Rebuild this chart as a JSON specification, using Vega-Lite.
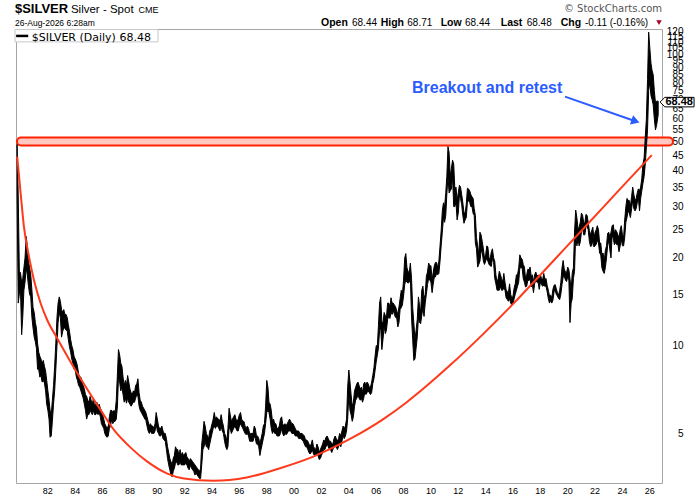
{
  "$schema": "https://vega.github.io/schema/vega-lite/v6.json",
  "width": 646,
  "height": 454,
  "autosize": {"type": "none"},
  "padding": {"left": 16, "top": 29, "right": 38, "bottom": 17},
  "background": "#ffffff",
  "config": {"view": {"stroke": "#a6a6a6", "strokeWidth": 1}, "font": "Liberation Sans"},
  "datasets": {
    "price": [
      {"d":"1979-10-15","lo":34,"hi":49},{"d":"1979-11-15","lo":14,"hi":33},{"d":"1979-12-15","lo":15,"hi":18},
      {"d":"1980-01-15","lo":15.5,"hi":17.8},{"d":"1980-02-15","lo":10.9,"hi":16.5},{"d":"1980-03-15","lo":12.5,"hi":17},{"d":"1980-04-15","lo":15.5,"hi":18.5},{"d":"1980-05-15","lo":16.5,"hi":20},{"d":"1980-06-15","lo":18.5,"hi":23.7},{"d":"1980-07-15","lo":17.5,"hi":22},{"d":"1980-08-15","lo":16,"hi":19.5},{"d":"1980-09-15","lo":15,"hi":18.5},{"d":"1980-10-15","lo":14.7,"hi":17.5},{"d":"1980-11-15","lo":12.5,"hi":15.5},{"d":"1980-12-15","lo":11.5,"hi":13.5},
      {"d":"1981-01-15","lo":10.7,"hi":13},{"d":"1981-02-15","lo":10.3,"hi":12},{"d":"1981-03-15","lo":9.8,"hi":11.5},{"d":"1981-04-15","lo":8.3,"hi":10.2},{"d":"1981-05-15","lo":8.3,"hi":9.5},{"d":"1981-06-15","lo":7.8,"hi":9.2},{"d":"1981-07-15","lo":7.9,"hi":9},{"d":"1981-08-15","lo":7.5,"hi":8.7},{"d":"1981-09-15","lo":7.6,"hi":8.9},{"d":"1981-10-15","lo":7.45,"hi":8.5},{"d":"1981-11-15","lo":7,"hi":8.2},{"d":"1981-12-15","lo":6.3,"hi":7.6},
      {"d":"1982-01-15","lo":6,"hi":7},{"d":"1982-02-15","lo":5.6,"hi":6.5},{"d":"1982-03-15","lo":4.85,"hi":6},{"d":"1982-04-15","lo":4.9,"hi":5.8},{"d":"1982-05-15","lo":5.5,"hi":6.5},{"d":"1982-06-15","lo":6.3,"hi":7.3},{"d":"1982-07-15","lo":7,"hi":8.5},{"d":"1982-08-15","lo":8.3,"hi":10.2},{"d":"1982-09-15","lo":10,"hi":12.5},{"d":"1982-10-15","lo":12,"hi":14},{"d":"1982-11-15","lo":13,"hi":14.7},{"d":"1982-12-15","lo":12.5,"hi":14.2},
      {"d":"1983-01-15","lo":10.7,"hi":13.3},{"d":"1983-02-15","lo":11.2,"hi":13},{"d":"1983-03-15","lo":11.5,"hi":13.3},{"d":"1983-04-15","lo":11.5,"hi":12.8},{"d":"1983-05-15","lo":11.3,"hi":12.8},{"d":"1983-06-15","lo":11.3,"hi":12.5},{"d":"1983-07-15","lo":10.5,"hi":11.8},{"d":"1983-08-15","lo":9.9,"hi":11.2},{"d":"1983-09-15","lo":9.5,"hi":10.5},{"d":"1983-10-15","lo":9,"hi":10},{"d":"1983-11-15","lo":8.7,"hi":9.7},{"d":"1983-12-15","lo":8.3,"hi":9.2},
      {"d":"1984-01-15","lo":8.25,"hi":9},{"d":"1984-02-15","lo":7.8,"hi":8.8},{"d":"1984-03-15","lo":7.6,"hi":8.5},{"d":"1984-04-15","lo":7.3,"hi":8},{"d":"1984-05-15","lo":7.2,"hi":7.8},{"d":"1984-06-15","lo":7,"hi":7.8},{"d":"1984-07-15","lo":6.8,"hi":7.5},{"d":"1984-08-15","lo":6.6,"hi":7.3},{"d":"1984-09-15","lo":6.3,"hi":7.1},{"d":"1984-10-15","lo":6,"hi":6.8},{"d":"1984-11-15","lo":5.6,"hi":6.7},{"d":"1984-12-15","lo":5.8,"hi":6.5},
      {"d":"1985-01-15","lo":5.8,"hi":6.4},{"d":"1985-02-15","lo":6,"hi":6.7},{"d":"1985-03-15","lo":5.9,"hi":6.5},{"d":"1985-04-15","lo":5.8,"hi":6.3},{"d":"1985-05-15","lo":6,"hi":6.6},{"d":"1985-06-15","lo":5.8,"hi":6.2},{"d":"1985-07-15","lo":5.8,"hi":6.3},{"d":"1985-08-15","lo":5.9,"hi":6.4},{"d":"1985-09-15","lo":5.8,"hi":6.2},{"d":"1985-10-15","lo":5.9,"hi":6.3},{"d":"1985-11-15","lo":5.7,"hi":6.1},{"d":"1985-12-15","lo":5.4,"hi":6},
      {"d":"1986-01-15","lo":5.3,"hi":5.8},{"d":"1986-02-15","lo":5.2,"hi":5.6},{"d":"1986-03-15","lo":5,"hi":5.4},{"d":"1986-04-15","lo":4.9,"hi":5.3},{"d":"1986-05-15","lo":4.85,"hi":5.2},{"d":"1986-06-15","lo":4.9,"hi":5.3},{"d":"1986-07-15","lo":5.2,"hi":5.7},{"d":"1986-08-15","lo":5.3,"hi":6},{"d":"1986-09-15","lo":5.6,"hi":6},{"d":"1986-10-15","lo":5.4,"hi":5.9},{"d":"1986-11-15","lo":5.5,"hi":6},{"d":"1986-12-15","lo":5.5,"hi":5.9},
      {"d":"1987-01-15","lo":5.6,"hi":6.5},{"d":"1987-02-15","lo":6.2,"hi":8},{"d":"1987-03-15","lo":7.8,"hi":9.7},{"d":"1987-04-15","lo":7.5,"hi":9.3},{"d":"1987-05-15","lo":7,"hi":8.7},{"d":"1987-06-15","lo":7.2,"hi":8.5},{"d":"1987-07-15","lo":6.8,"hi":7.8},{"d":"1987-08-15","lo":6.4,"hi":7.3},{"d":"1987-09-15","lo":6.6,"hi":7.6},{"d":"1987-10-15","lo":6.35,"hi":7.3},{"d":"1987-11-15","lo":6.6,"hi":7.9},{"d":"1987-12-15","lo":6.4,"hi":7.5},
      {"d":"1988-01-15","lo":6.3,"hi":7.1},{"d":"1988-02-15","lo":6.2,"hi":6.9},{"d":"1988-03-15","lo":6.3,"hi":6.8},{"d":"1988-04-15","lo":6.4,"hi":7},{"d":"1988-05-15","lo":6.4,"hi":6.9},{"d":"1988-06-15","lo":6.6,"hi":7.3},{"d":"1988-07-15","lo":6.8,"hi":7.4},{"d":"1988-08-15","lo":6.7,"hi":7.7},{"d":"1988-09-15","lo":6.2,"hi":6.9},{"d":"1988-10-15","lo":6,"hi":6.5},{"d":"1988-11-15","lo":5.9,"hi":6.4},{"d":"1988-12-15","lo":5.8,"hi":6.2},
      {"d":"1989-01-15","lo":5.7,"hi":6.1},{"d":"1989-02-15","lo":5.6,"hi":6},{"d":"1989-03-15","lo":5.55,"hi":5.9},{"d":"1989-04-15","lo":5.3,"hi":5.7},{"d":"1989-05-15","lo":5.1,"hi":5.5},{"d":"1989-06-15","lo":5,"hi":5.3},{"d":"1989-07-15","lo":5.1,"hi":5.4},{"d":"1989-08-15","lo":5,"hi":5.3},{"d":"1989-09-15","lo":5,"hi":5.3},{"d":"1989-10-15","lo":5,"hi":5.2},{"d":"1989-11-15","lo":5.1,"hi":5.4},{"d":"1989-12-15","lo":5.4,"hi":5.9},
      {"d":"1990-01-15","lo":5.1,"hi":5.6},{"d":"1990-02-15","lo":5,"hi":5.3},{"d":"1990-03-15","lo":4.9,"hi":5.2},{"d":"1990-04-15","lo":4.9,"hi":5.2},{"d":"1990-05-15","lo":5,"hi":5.3},{"d":"1990-06-15","lo":4.8,"hi":5.1},{"d":"1990-07-15","lo":4.75,"hi":5},{"d":"1990-08-15","lo":4.7,"hi":5},{"d":"1990-09-15","lo":4.4,"hi":4.8},{"d":"1990-10-15","lo":4.1,"hi":4.5},{"d":"1990-11-15","lo":3.9,"hi":4.3},{"d":"1990-12-15","lo":3.75,"hi":4.1},
      {"d":"1991-01-15","lo":3.6,"hi":4},{"d":"1991-02-15","lo":3.55,"hi":3.9},{"d":"1991-03-15","lo":3.7,"hi":4.1},{"d":"1991-04-15","lo":3.8,"hi":4.2},{"d":"1991-05-15","lo":3.95,"hi":4.5},{"d":"1991-06-15","lo":4,"hi":4.4},{"d":"1991-07-15","lo":3.9,"hi":4.4},{"d":"1991-08-15","lo":3.9,"hi":4.2},{"d":"1991-09-15","lo":4,"hi":4.4},{"d":"1991-10-15","lo":3.9,"hi":4.2},{"d":"1991-11-15","lo":3.9,"hi":4.3},{"d":"1991-12-15","lo":3.9,"hi":4.2},
      {"d":"1992-01-15","lo":3.9,"hi":4.25},{"d":"1992-02-15","lo":3.95,"hi":4.3},{"d":"1992-03-15","lo":3.9,"hi":4.15},{"d":"1992-04-15","lo":3.8,"hi":4.1},{"d":"1992-05-15","lo":3.75,"hi":4},{"d":"1992-06-15","lo":3.9,"hi":4.1},{"d":"1992-07-15","lo":3.8,"hi":4.05},{"d":"1992-08-15","lo":3.75,"hi":4},{"d":"1992-09-15","lo":3.7,"hi":3.95},{"d":"1992-10-15","lo":3.6,"hi":3.9},{"d":"1992-11-15","lo":3.65,"hi":3.85},{"d":"1992-12-15","lo":3.6,"hi":3.8},
      {"d":"1993-01-15","lo":3.55,"hi":3.75},{"d":"1993-02-15","lo":3.5,"hi":3.7},{"d":"1993-03-15","lo":3.5,"hi":3.8},{"d":"1993-04-15","lo":3.9,"hi":4.6},{"d":"1993-05-15","lo":4.4,"hi":5},{"d":"1993-06-15","lo":4.5,"hi":5.5},{"d":"1993-07-15","lo":4.7,"hi":5.3},{"d":"1993-08-15","lo":4.5,"hi":5},{"d":"1993-09-15","lo":4.5,"hi":4.9},{"d":"1993-10-15","lo":4.4,"hi":4.8},{"d":"1993-11-15","lo":4.6,"hi":5.1},{"d":"1993-12-15","lo":4.8,"hi":5.2},
      {"d":"1994-01-15","lo":5,"hi":5.4},{"d":"1994-02-15","lo":5.2,"hi":5.6},{"d":"1994-03-15","lo":5.3,"hi":5.9},{"d":"1994-04-15","lo":5.2,"hi":5.6},{"d":"1994-05-15","lo":5.3,"hi":5.7},{"d":"1994-06-15","lo":5.3,"hi":5.6},{"d":"1994-07-15","lo":5.2,"hi":5.6},{"d":"1994-08-15","lo":5.1,"hi":5.5},{"d":"1994-09-15","lo":5.3,"hi":5.8},{"d":"1994-10-15","lo":5.1,"hi":5.5},{"d":"1994-11-15","lo":5,"hi":5.3},{"d":"1994-12-15","lo":4.7,"hi":5},
      {"d":"1995-01-15","lo":4.5,"hi":4.9},{"d":"1995-02-15","lo":4.4,"hi":4.7},{"d":"1995-03-15","lo":4.5,"hi":5.2},{"d":"1995-04-15","lo":5.2,"hi":6.1},{"d":"1995-05-15","lo":5.2,"hi":5.8},{"d":"1995-06-15","lo":5,"hi":5.5},{"d":"1995-07-15","lo":5.1,"hi":5.6},{"d":"1995-08-15","lo":5.2,"hi":5.7},{"d":"1995-09-15","lo":5.3,"hi":5.8},{"d":"1995-10-15","lo":5.2,"hi":5.6},{"d":"1995-11-15","lo":5.1,"hi":5.5},{"d":"1995-12-15","lo":5.1,"hi":5.6},
      {"d":"1996-01-15","lo":5.3,"hi":5.8},{"d":"1996-02-15","lo":5.4,"hi":5.9},{"d":"1996-03-15","lo":5.3,"hi":5.6},{"d":"1996-04-15","lo":5.2,"hi":5.5},{"d":"1996-05-15","lo":5.1,"hi":5.5},{"d":"1996-06-15","lo":5,"hi":5.3},{"d":"1996-07-15","lo":4.95,"hi":5.2},{"d":"1996-08-15","lo":5,"hi":5.3},{"d":"1996-09-15","lo":4.9,"hi":5.2},{"d":"1996-10-15","lo":4.7,"hi":5},{"d":"1996-11-15","lo":4.7,"hi":5},{"d":"1996-12-15","lo":4.7,"hi":5},
      {"d":"1997-01-15","lo":4.7,"hi":5},{"d":"1997-02-15","lo":4.9,"hi":5.3},{"d":"1997-03-15","lo":4.8,"hi":5.2},{"d":"1997-04-15","lo":4.6,"hi":4.9},{"d":"1997-05-15","lo":4.6,"hi":4.9},{"d":"1997-06-15","lo":4.5,"hi":4.8},{"d":"1997-07-15","lo":4.2,"hi":4.6},{"d":"1997-08-15","lo":4.4,"hi":4.8},{"d":"1997-09-15","lo":4.6,"hi":5},{"d":"1997-10-15","lo":4.8,"hi":5.3},{"d":"1997-11-15","lo":5,"hi":5.4},{"d":"1997-12-15","lo":5.4,"hi":6.2},
      {"d":"1998-01-15","lo":5.9,"hi":7.6},{"d":"1998-02-15","lo":6,"hi":7.2},{"d":"1998-03-15","lo":5.9,"hi":6.4},{"d":"1998-04-15","lo":5.6,"hi":6.3},{"d":"1998-05-15","lo":5.2,"hi":6},{"d":"1998-06-15","lo":5,"hi":5.5},{"d":"1998-07-15","lo":5.1,"hi":5.6},{"d":"1998-08-15","lo":5,"hi":5.4},{"d":"1998-09-15","lo":5,"hi":5.4},{"d":"1998-10-15","lo":4.9,"hi":5.2},{"d":"1998-11-15","lo":4.9,"hi":5.2},{"d":"1998-12-15","lo":4.9,"hi":5.3},
      {"d":"1999-01-15","lo":5,"hi":5.6},{"d":"1999-02-15","lo":5.2,"hi":5.7},{"d":"1999-03-15","lo":5,"hi":5.4},{"d":"1999-04-15","lo":4.9,"hi":5.3},{"d":"1999-05-15","lo":5,"hi":5.4},{"d":"1999-06-15","lo":4.95,"hi":5.3},{"d":"1999-07-15","lo":5,"hi":5.4},{"d":"1999-08-15","lo":5.1,"hi":5.5},{"d":"1999-09-15","lo":5.1,"hi":5.6},{"d":"1999-10-15","lo":5.1,"hi":5.5},{"d":"1999-11-15","lo":5,"hi":5.4},{"d":"1999-12-15","lo":5,"hi":5.4},
      {"d":"2000-01-15","lo":5,"hi":5.3},{"d":"2000-02-15","lo":4.9,"hi":5.2},{"d":"2000-03-15","lo":4.9,"hi":5.1},{"d":"2000-04-15","lo":4.9,"hi":5.1},{"d":"2000-05-15","lo":4.8,"hi":5.1},{"d":"2000-06-15","lo":4.8,"hi":5},{"d":"2000-07-15","lo":4.8,"hi":5},{"d":"2000-08-15","lo":4.75,"hi":5},{"d":"2000-09-15","lo":4.7,"hi":4.95},{"d":"2000-10-15","lo":4.6,"hi":4.9},{"d":"2000-11-15","lo":4.5,"hi":4.75},{"d":"2000-12-15","lo":4.5,"hi":4.75},
      {"d":"2001-01-15","lo":4.4,"hi":4.7},{"d":"2001-02-15","lo":4.3,"hi":4.6},{"d":"2001-03-15","lo":4.25,"hi":4.5},{"d":"2001-04-15","lo":4.3,"hi":4.6},{"d":"2001-05-15","lo":4.4,"hi":4.75},{"d":"2001-06-15","lo":4.25,"hi":4.5},{"d":"2001-07-15","lo":4.2,"hi":4.45},{"d":"2001-08-15","lo":4.2,"hi":4.4},{"d":"2001-09-15","lo":4.3,"hi":4.6},{"d":"2001-10-15","lo":4.2,"hi":4.5},{"d":"2001-11-15","lo":4.07,"hi":4.3},{"d":"2001-12-15","lo":4.1,"hi":4.4},
      {"d":"2002-01-15","lo":4.2,"hi":4.5},{"d":"2002-02-15","lo":4.3,"hi":4.6},{"d":"2002-03-15","lo":4.4,"hi":4.75},{"d":"2002-04-15","lo":4.4,"hi":4.7},{"d":"2002-05-15","lo":4.5,"hi":4.85},{"d":"2002-06-15","lo":4.6,"hi":4.9},{"d":"2002-07-15","lo":4.5,"hi":4.8},{"d":"2002-08-15","lo":4.4,"hi":4.7},{"d":"2002-09-15","lo":4.4,"hi":4.7},{"d":"2002-10-15","lo":4.3,"hi":4.6},{"d":"2002-11-15","lo":4.4,"hi":4.6},{"d":"2002-12-15","lo":4.5,"hi":4.8},
      {"d":"2003-01-15","lo":4.6,"hi":4.9},{"d":"2003-02-15","lo":4.5,"hi":4.8},{"d":"2003-03-15","lo":4.4,"hi":4.7},{"d":"2003-04-15","lo":4.5,"hi":4.8},{"d":"2003-05-15","lo":4.6,"hi":5},{"d":"2003-06-15","lo":4.5,"hi":4.9},{"d":"2003-07-15","lo":4.7,"hi":5.1},{"d":"2003-08-15","lo":4.9,"hi":5.3},{"d":"2003-09-15","lo":4.8,"hi":5.2},{"d":"2003-10-15","lo":4.9,"hi":5.3},{"d":"2003-11-15","lo":5.1,"hi":5.6},{"d":"2003-12-15","lo":5.6,"hi":7.2},
      {"d":"2004-01-15","lo":6.8,"hi":8.25},{"d":"2004-02-15","lo":6,"hi":7.5},{"d":"2004-03-15","lo":5.8,"hi":6.8},{"d":"2004-04-15","lo":5.5,"hi":6.2},{"d":"2004-05-15","lo":5.7,"hi":6.4},{"d":"2004-06-15","lo":6.2,"hi":7},{"d":"2004-07-15","lo":6.5,"hi":7.2},{"d":"2004-08-15","lo":6.6,"hi":7.4},{"d":"2004-09-15","lo":6.8,"hi":7.5},{"d":"2004-10-15","lo":6.6,"hi":7.3},{"d":"2004-11-15","lo":6.5,"hi":7.1},{"d":"2004-12-15","lo":6.6,"hi":7.2},
      {"d":"2005-01-15","lo":6.4,"hi":6.9},{"d":"2005-02-15","lo":6.6,"hi":7.4},{"d":"2005-03-15","lo":6.9,"hi":7.5},{"d":"2005-04-15","lo":6.8,"hi":7.3},{"d":"2005-05-15","lo":6.9,"hi":7.5},{"d":"2005-06-15","lo":7,"hi":7.4},{"d":"2005-07-15","lo":6.9,"hi":7.2},{"d":"2005-08-15","lo":6.8,"hi":7.2},{"d":"2005-09-15","lo":6.9,"hi":7.5},{"d":"2005-10-15","lo":7.4,"hi":7.9},{"d":"2005-11-15","lo":7.7,"hi":8.4},{"d":"2005-12-15","lo":8.2,"hi":9.2},
      {"d":"2006-01-15","lo":8.8,"hi":10},{"d":"2006-02-15","lo":9.3,"hi":10},{"d":"2006-03-15","lo":9.8,"hi":11.7},{"d":"2006-04-15","lo":11.3,"hi":14},{"d":"2006-05-15","lo":11.5,"hi":14.7},{"d":"2006-06-15","lo":9.7,"hi":12},{"d":"2006-07-15","lo":10.5,"hi":12},{"d":"2006-08-15","lo":11.7,"hi":13},{"d":"2006-09-15","lo":11,"hi":12.7},{"d":"2006-10-15","lo":11.3,"hi":12.5},{"d":"2006-11-15","lo":12.3,"hi":14},{"d":"2006-12-15","lo":12.6,"hi":14},
      {"d":"2007-01-15","lo":12.4,"hi":13.6},{"d":"2007-02-15","lo":13,"hi":14.6},{"d":"2007-03-15","lo":12.8,"hi":14},{"d":"2007-04-15","lo":13.2,"hi":14},{"d":"2007-05-15","lo":12.8,"hi":13.8},{"d":"2007-06-15","lo":12.5,"hi":13.6},{"d":"2007-07-15","lo":12.5,"hi":13.2},{"d":"2007-08-15","lo":11.6,"hi":12.8},{"d":"2007-09-15","lo":12,"hi":13.6},{"d":"2007-10-15","lo":13.3,"hi":14.5},{"d":"2007-11-15","lo":13.5,"hi":15.5},{"d":"2007-12-15","lo":13.8,"hi":15},
      {"d":"2008-01-15","lo":14.8,"hi":16.8},{"d":"2008-02-15","lo":16.2,"hi":20},{"d":"2008-03-15","lo":16.8,"hi":20.7},{"d":"2008-04-15","lo":16.5,"hi":18.5},{"d":"2008-05-15","lo":16.4,"hi":18},{"d":"2008-06-15","lo":16.5,"hi":17.8},{"d":"2008-07-15","lo":17,"hi":19.2},{"d":"2008-08-15","lo":12.5,"hi":17},{"d":"2008-09-15","lo":10.5,"hi":13.5},{"d":"2008-10-15","lo":8.9,"hi":12},{"d":"2008-11-15","lo":9,"hi":10.5},{"d":"2008-12-15","lo":9.8,"hi":11.3},
      {"d":"2009-01-15","lo":10.7,"hi":12.3},{"d":"2009-02-15","lo":12.5,"hi":14.7},{"d":"2009-03-15","lo":12,"hi":13.8},{"d":"2009-04-15","lo":11.9,"hi":13},{"d":"2009-05-15","lo":12.7,"hi":15.5},{"d":"2009-06-15","lo":13.5,"hi":16},{"d":"2009-07-15","lo":12.6,"hi":14.5},{"d":"2009-08-15","lo":14,"hi":15},{"d":"2009-09-15","lo":15,"hi":17.3},{"d":"2009-10-15","lo":16.2,"hi":17.9},{"d":"2009-11-15","lo":17,"hi":19.2},{"d":"2009-12-15","lo":16.8,"hi":18.8},
      {"d":"2010-01-15","lo":16.5,"hi":18.8},{"d":"2010-02-15","lo":15.2,"hi":16.8},{"d":"2010-03-15","lo":16.2,"hi":17.8},{"d":"2010-04-15","lo":17.2,"hi":18.8},{"d":"2010-05-15","lo":17.2,"hi":19.3},{"d":"2010-06-15","lo":17.7,"hi":19.3},{"d":"2010-07-15","lo":17.5,"hi":18.5},{"d":"2010-08-15","lo":17.7,"hi":19.5},{"d":"2010-09-15","lo":19.5,"hi":22},{"d":"2010-10-15","lo":22,"hi":24.8},{"d":"2010-11-15","lo":24.5,"hi":29},{"d":"2010-12-15","lo":27.5,"hi":30.9},
      {"d":"2011-01-15","lo":26.5,"hi":30},{"d":"2011-02-15","lo":28,"hi":33.5},{"d":"2011-03-15","lo":33,"hi":38},{"d":"2011-04-15","lo":38,"hi":48.2},{"d":"2011-05-15","lo":33.4,"hi":46},{"d":"2011-06-15","lo":34,"hi":38},{"d":"2011-07-15","lo":34.5,"hi":40.5},{"d":"2011-08-15","lo":38,"hi":43.3},{"d":"2011-09-15","lo":30,"hi":42},{"d":"2011-10-15","lo":30,"hi":34.5},{"d":"2011-11-15","lo":31,"hi":35},{"d":"2011-12-15","lo":27,"hi":31.5},
      {"d":"2012-01-15","lo":28.5,"hi":33.5},{"d":"2012-02-15","lo":33,"hi":35.5},{"d":"2012-03-15","lo":32,"hi":35},{"d":"2012-04-15","lo":30.5,"hi":33},{"d":"2012-05-15","lo":28,"hi":31},{"d":"2012-06-15","lo":26.3,"hi":28.5},{"d":"2012-07-15","lo":27,"hi":28.5},{"d":"2012-08-15","lo":27.5,"hi":30.5},{"d":"2012-09-15","lo":31,"hi":34.7},{"d":"2012-10-15","lo":31.5,"hi":34.5},{"d":"2012-11-15","lo":31,"hi":34},{"d":"2012-12-15","lo":30,"hi":33},
      {"d":"2013-01-15","lo":30,"hi":32.4},{"d":"2013-02-15","lo":28.4,"hi":32},{"d":"2013-03-15","lo":28,"hi":29.5},{"d":"2013-04-15","lo":22.5,"hi":28},{"d":"2013-05-15","lo":21.5,"hi":23.5},{"d":"2013-06-15","lo":18.6,"hi":22},{"d":"2013-07-15","lo":19,"hi":20.5},{"d":"2013-08-15","lo":19.5,"hi":24.5},{"d":"2013-09-15","lo":21,"hi":24},{"d":"2013-10-15","lo":21,"hi":22.8},{"d":"2013-11-15","lo":19.5,"hi":21.5},{"d":"2013-12-15","lo":19,"hi":20},
      {"d":"2014-01-15","lo":19.5,"hi":20.5},{"d":"2014-02-15","lo":20,"hi":22},{"d":"2014-03-15","lo":19.5,"hi":21.8},{"d":"2014-04-15","lo":19,"hi":20},{"d":"2014-05-15","lo":18.8,"hi":19.8},{"d":"2014-06-15","lo":18.7,"hi":21},{"d":"2014-07-15","lo":20,"hi":21.5},{"d":"2014-08-15","lo":19.3,"hi":20},{"d":"2014-09-15","lo":17,"hi":19.5},{"d":"2014-10-15","lo":16.3,"hi":17.5},{"d":"2014-11-15","lo":15.5,"hi":16.5},{"d":"2014-12-15","lo":15.5,"hi":17},
      {"d":"2015-01-15","lo":15.5,"hi":18},{"d":"2015-02-15","lo":16,"hi":17.5},{"d":"2015-03-15","lo":15.5,"hi":17},{"d":"2015-04-15","lo":15.5,"hi":16.5},{"d":"2015-05-15","lo":15.8,"hi":17.7},{"d":"2015-06-15","lo":15.5,"hi":16.5},{"d":"2015-07-15","lo":14.6,"hi":15.6},{"d":"2015-08-15","lo":14.4,"hi":15.3},{"d":"2015-09-15","lo":14.2,"hi":15.2},{"d":"2015-10-15","lo":14.5,"hi":16.3},{"d":"2015-11-15","lo":14,"hi":15},{"d":"2015-12-15","lo":13.8,"hi":14.5},
      {"d":"2016-01-15","lo":13.9,"hi":14.8},{"d":"2016-02-15","lo":14.5,"hi":15.8},{"d":"2016-03-15","lo":15,"hi":16.3},{"d":"2016-04-15","lo":15.5,"hi":17.5},{"d":"2016-05-15","lo":16,"hi":17.5},{"d":"2016-06-15","lo":16.5,"hi":18.5},{"d":"2016-07-15","lo":18.5,"hi":20.5},{"d":"2016-08-15","lo":18.5,"hi":20},{"d":"2016-09-15","lo":18.5,"hi":19.8},{"d":"2016-10-15","lo":17,"hi":19},{"d":"2016-11-15","lo":16.5,"hi":18.6},{"d":"2016-12-15","lo":15.9,"hi":17},
      {"d":"2017-01-15","lo":16,"hi":17.5},{"d":"2017-02-15","lo":16.8,"hi":18.3},{"d":"2017-03-15","lo":16.7,"hi":18.2},{"d":"2017-04-15","lo":17,"hi":18.6},{"d":"2017-05-15","lo":15.9,"hi":17.3},{"d":"2017-06-15","lo":16.2,"hi":17.5},{"d":"2017-07-15","lo":15.2,"hi":16.5},{"d":"2017-08-15","lo":16.3,"hi":17.5},{"d":"2017-09-15","lo":16.8,"hi":17.9},{"d":"2017-10-15","lo":16.5,"hi":17.3},{"d":"2017-11-15","lo":16.5,"hi":17.5},{"d":"2017-12-15","lo":15.6,"hi":16.8},
      {"d":"2018-01-15","lo":16.5,"hi":17.5},{"d":"2018-02-15","lo":16.2,"hi":17},{"d":"2018-03-15","lo":16,"hi":16.8},{"d":"2018-04-15","lo":16.1,"hi":17.7},{"d":"2018-05-15","lo":16,"hi":16.9},{"d":"2018-06-15","lo":16,"hi":17},{"d":"2018-07-15","lo":15.3,"hi":16.1},{"d":"2018-08-15","lo":14.5,"hi":15.5},{"d":"2018-09-15","lo":14,"hi":14.8},{"d":"2018-10-15","lo":14.3,"hi":14.9},{"d":"2018-11-15","lo":14,"hi":14.6},{"d":"2018-12-15","lo":14.3,"hi":15.6},
      {"d":"2019-01-15","lo":15.3,"hi":16.1},{"d":"2019-02-15","lo":15.5,"hi":16.2},{"d":"2019-03-15","lo":15,"hi":15.7},{"d":"2019-04-15","lo":14.8,"hi":15.2},{"d":"2019-05-15","lo":14.5,"hi":14.9},{"d":"2019-06-15","lo":14.4,"hi":15.5},{"d":"2019-07-15","lo":15,"hi":16.5},{"d":"2019-08-15","lo":16.2,"hi":18.5},{"d":"2019-09-15","lo":17.2,"hi":19.6},{"d":"2019-10-15","lo":17.3,"hi":18.3},{"d":"2019-11-15","lo":16.8,"hi":17.9},{"d":"2019-12-15","lo":16.6,"hi":17.8},
      {"d":"2020-01-15","lo":17.2,"hi":18.6},{"d":"2020-02-15","lo":16.8,"hi":18.2},{"d":"2020-03-15","lo":12,"hi":17},{"d":"2020-04-15","lo":14,"hi":15.5},{"d":"2020-05-15","lo":14.5,"hi":17.8},{"d":"2020-06-15","lo":17,"hi":18.5},{"d":"2020-07-15","lo":18,"hi":24.5},{"d":"2020-08-15","lo":24,"hi":29.2},{"d":"2020-09-15","lo":22,"hi":27.5},{"d":"2020-10-15","lo":23.2,"hi":25.2},{"d":"2020-11-15","lo":22,"hi":25.5},{"d":"2020-12-15","lo":22.7,"hi":26.5},
      {"d":"2021-01-15","lo":24.5,"hi":28.5},{"d":"2021-02-15","lo":25.5,"hi":28},{"d":"2021-03-15","lo":24,"hi":26.5},{"d":"2021-04-15","lo":24,"hi":26.3},{"d":"2021-05-15","lo":25.5,"hi":28.2},{"d":"2021-06-15","lo":25.7,"hi":28},{"d":"2021-07-15","lo":25,"hi":26.5},{"d":"2021-08-15","lo":22.8,"hi":24.8},{"d":"2021-09-15","lo":21.9,"hi":24},{"d":"2021-10-15","lo":22,"hi":24.8},{"d":"2021-11-15","lo":23,"hi":25.5},{"d":"2021-12-15","lo":21.8,"hi":23.3},
      {"d":"2022-01-15","lo":22,"hi":24.5},{"d":"2022-02-15","lo":22.3,"hi":25},{"d":"2022-03-15","lo":23,"hi":25.8},{"d":"2022-04-15","lo":22.5,"hi":25},{"d":"2022-05-15","lo":20.8,"hi":22.5},{"d":"2022-06-15","lo":20.5,"hi":22.5},{"d":"2022-07-15","lo":18.5,"hi":20.5},{"d":"2022-08-15","lo":18,"hi":20.8},{"d":"2022-09-15","lo":17.7,"hi":19.5},{"d":"2022-10-15","lo":18.5,"hi":21.2},{"d":"2022-11-15","lo":20,"hi":22},{"d":"2022-12-15","lo":22,"hi":24.3},
      {"d":"2023-01-15","lo":23,"hi":24.5},{"d":"2023-02-15","lo":21.2,"hi":23.5},{"d":"2023-03-15","lo":20,"hi":24.5},{"d":"2023-04-15","lo":24,"hi":25.8},{"d":"2023-05-15","lo":23.3,"hi":26},{"d":"2023-06-15","lo":22.2,"hi":24.3},{"d":"2023-07-15","lo":22.6,"hi":25},{"d":"2023-08-15","lo":22.2,"hi":24.6},{"d":"2023-09-15","lo":22.3,"hi":24},{"d":"2023-10-15","lo":21,"hi":23.4},{"d":"2023-11-15","lo":22,"hi":25},{"d":"2023-12-15","lo":23.2,"hi":25.8},
      {"d":"2024-01-15","lo":22,"hi":24},{"d":"2024-02-15","lo":22,"hi":23.5},{"d":"2024-03-15","lo":23.5,"hi":27},{"d":"2024-04-15","lo":26.5,"hi":30},{"d":"2024-05-15","lo":27.5,"hi":32},{"d":"2024-06-15","lo":29,"hi":31.5},{"d":"2024-07-15","lo":28.5,"hi":31.5},{"d":"2024-08-15","lo":27.5,"hi":30},{"d":"2024-09-15","lo":29.5,"hi":32.5},{"d":"2024-10-15","lo":31.5,"hi":35},{"d":"2024-11-15","lo":29.5,"hi":33},{"d":"2024-12-15","lo":29,"hi":31.5},
      {"d":"2025-01-15","lo":29.5,"hi":32},{"d":"2025-02-15","lo":31,"hi":33.5},{"d":"2025-03-15","lo":32,"hi":34.5},{"d":"2025-04-15","lo":29,"hi":34},{"d":"2025-05-15","lo":32,"hi":35},{"d":"2025-06-15","lo":34,"hi":37.5},{"d":"2025-07-15","lo":36,"hi":42},{"d":"2025-08-15","lo":38,"hi":44},{"d":"2025-09-15","lo":42,"hi":52},{"d":"2025-10-15","lo":48,"hi":60},{"d":"2025-11-15","lo":55,"hi":82},{"d":"2025-12-15","lo":75,"hi":119},
      {"d":"2026-01-15","lo":80,"hi":105},{"d":"2026-02-15","lo":72,"hi":93},{"d":"2026-03-15","lo":70,"hi":88},{"d":"2026-04-15","lo":67,"hi":85},{"d":"2026-05-15","lo":60,"hi":75},{"d":"2026-06-15","lo":55,"hi":68},{"d":"2026-07-15","lo":57,"hi":69},{"d":"2026-08-26","lo":62,"hi":69}
    ],
    "arc": [
      {"t":"1979-10-19","v":44.5},{"t":"1980-01-19","v":33.3},{"t":"1980-04-16","v":25.6},{"t":"1980-08-29","v":20.2},{"t":"1981-01-08","v":16.8},{"t":"1981-07-05","v":13.98},{"t":"1981-12-28","v":12.25},{"t":"1982-09-20","v":10.6},{"t":"1983-06-18","v":9.2},{"t":"1984-03-10","v":8.04},{"t":"1984-12-02","v":7.09},{"t":"1985-11-24","v":6.01},{"t":"1986-11-14","v":5.14},{"t":"1988-02-03","v":4.47},{"t":"1989-04-23","v":4.0},{"t":"1990-10-09","v":3.64},{"t":"1991-12-28","v":3.5},{"t":"1994-02-17","v":3.44},{"t":"1996-07-27","v":3.53},{"t":"1999-01-05","v":3.8},{"t":"2001-06-10","v":4.165},{"t":"2004-02-14","v":4.785},{"t":"2006-07-24","v":5.6},{"t":"2008-04-09","v":6.4},{"t":"2011-06-07","v":8.56},{"t":"2013-11-14","v":10.98},{"t":"2015-10-27","v":13.56},{"t":"2016-07-19","v":14.72},{"t":"2018-12-24","v":19.52},{"t":"2021-06-07","v":25.95},{"t":"2023-11-10","v":34.43},{"t":"2026-03-07","v":45.07}
    ]
  },
  "data": {"values": [{}]},
  "layer": [
    {
      "mark": {"type": "rect", "fill": "#ffc9c2", "stroke": "#ff2200", "strokeWidth": 2, "cornerRadius": 4},
      "encoding": {
        "x": {"datum": {"year": 1979, "month": 10, "date": 12, "utc": true}},
        "x2": {"datum": {"year": 2027, "month": 9, "date": 25, "utc": true}},
        "y": {"datum": 48.6},
        "y2": {"datum": 51.8}
      }
    },
    {
      "data": {"name": "price"},
      "mark": {"type": "area", "color": "#000000", "stroke": "#000000", "strokeWidth": 1, "interpolate": "linear"},
      "encoding": {
        "x": {
          "field": "d", "type": "temporal",
          "scale": {"type": "utc", "domain": [{"year": 1979, "month": 9, "date": 17, "utc": true}, {"year": 2026, "month": 12, "date": 6, "utc": true}]},
          "axis": {
            "title": null, "orient": "bottom", "ticks": false, "domain": false,
            "tickCount": {"interval": "year", "step": 1},
            "labelExpr": "(utcyear(datum.value) % 2 == 0 && utcyear(datum.value) >= 1982) ? utcFormat(datum.value, '%y') : ''",
            "labelFont": "Liberation Sans", "labelFontSize": 9, "labelColor": "#000000",
            "labelPadding": 3, "labelOverlap": false, "labelFlush": false, "labelBound": false,
            "gridWidth": 1,
            "gridColor": {"condition": {"test": "utcyear(datum.value) % 5 == 0", "value": "#c4c4c4"}, "value": "#e4e4e4"}
          }
        },
        "y": {
          "field": "lo", "type": "quantitative",
          "scale": {"type": "log", "domain": [3.38, 122], "nice": false},
          "axis": {
            "title": null, "orient": "right", "ticks": false, "domain": false,
            "values": [5,10,15,20,25,30,35,40,45,50,55,60,65,70,75,80,85,90,95,100,105,110,115,120],
            "labelExpr": "format(datum.value, 'd')",
            "labelFont": "Liberation Sans", "labelFontSize": 10, "labelColor": "#000000",
            "labelAlign": "right", "labelPadding": 21, "labelOverlap": false, "labelBound": false, "labelFlush": false,
            "gridColor": "#dcdcdc", "gridWidth": 1
          }
        },
        "y2": {"field": "hi"}
      }
    },
    {
      "data": {"name": "arc"},
      "mark": {"type": "line", "color": "#ff3a1c", "strokeWidth": 2, "interpolate": "monotone"},
      "encoding": {
        "x": {"field": "t", "type": "temporal"},
        "y": {"field": "v", "type": "quantitative"}
      }
    },
    {
      "mark": {"type": "rule", "color": "#2a5cff", "strokeWidth": 2},
      "encoding": {
        "x": {"datum": {"year": 2019, "month": 11, "date": 3, "utc": true}},
        "y": {"datum": 71.5},
        "x2": {"datum": {"year": 2024, "month": 12, "date": 28, "utc": true}},
        "y2": {"datum": 58.9}
      }
    },
    {
      "mark": {"type": "point", "shape": "triangle-right", "filled": true, "color": "#2a5cff", "opacity": 1, "size": 95, "angle": 19},
      "encoding": {
        "x": {"datum": {"year": 2024, "month": 12, "date": 28, "utc": true}},
        "y": {"datum": 58.9}
      }
    },
    {
      "mark": {"type": "text", "text": "Breakout and retest", "font": "Liberation Sans", "fontSize": 16, "fontWeight": "bold", "fill": "#2a5cff", "align": "center", "baseline": "alphabetic"},
      "encoding": {
        "x": {"datum": {"year": 2014, "month": 2, "date": 24, "utc": true}},
        "y": {"datum": 73.4}
      }
    },
    {
      "mark": {"type": "rect", "fill": "#ffffff", "stroke": "#c8c8c8", "strokeWidth": 1},
      "encoding": {
        "x": {"datum": {"year": 1979, "month": 8, "date": 22, "utc": true}},
        "x2": {"datum": {"year": 1990, "month": 2, "date": 2, "utc": true}},
        "y": {"datum": 110.2},
        "y2": {"datum": 121.5}
      }
    },
    {
      "mark": {"type": "rule", "color": "#000000", "strokeWidth": 2.5},
      "encoding": {
        "x": {"datum": {"year": 1979, "month": 9, "date": 20, "utc": true}},
        "x2": {"datum": {"year": 1980, "month": 8, "date": 8, "utc": true}},
        "y": {"datum": 115.5}
      }
    },
    {
      "mark": {"type": "text", "text": "$SILVER (Daily) 68.48", "font": "DejaVu Sans", "fontSize": 11, "fill": "#000000", "align": "left", "baseline": "alphabetic"},
      "encoding": {
        "x": {"datum": {"year": 1980, "month": 11, "date": 10, "utc": true}},
        "y": {"datum": 111.3}
      }
    },
    {
      "mark": {"type": "point", "shape": "M-1,0L-0.72,-0.28L1,-0.28L1,0.28L-0.72,0.28Z", "filled": true, "fill": "#ffffff", "stroke": "#000000", "strokeWidth": 1, "opacity": 1, "size": 1156},
      "encoding": {
        "x": {"datum": {"year": 2028, "month": 1, "date": 12, "utc": true}},
        "y": {"datum": 68.48}
      }
    },
    {
      "mark": {"type": "text", "text": "68.48", "font": "Liberation Sans", "fontSize": 11, "fontWeight": "bold", "fill": "#000000", "align": "center", "baseline": "middle"},
      "encoding": {
        "x": {"datum": {"year": 2028, "month": 3, "date": 8, "utc": true}},
        "y": {"datum": 68.48}
      }
    },
    {
      "mark": {"type": "text", "text": "$SILVER", "font": "Liberation Sans", "fontSize": 13, "fontWeight": "bold", "fill": "#000000", "align": "left", "baseline": "alphabetic"},
      "encoding": {"x": {"datum": {"year": 1979, "month": 8, "date": 20, "utc": true}}, "y": {"datum": 138.8}}
    },
    {
      "mark": {"type": "text", "text": "Silver - Spot", "font": "Liberation Sans", "fontSize": 11.5, "fill": "#000000", "align": "left", "baseline": "alphabetic"},
      "encoding": {"x": {"datum": {"year": 1983, "month": 9, "date": 23, "utc": true}}, "y": {"datum": 138.8}}
    },
    {
      "mark": {"type": "text", "text": "CME", "font": "Liberation Sans", "fontSize": 9, "fill": "#000000", "align": "left", "baseline": "alphabetic"},
      "encoding": {"x": {"datum": {"year": 1988, "month": 9, "date": 1, "utc": true}}, "y": {"datum": 138.8}}
    },
    {
      "mark": {"type": "text", "text": "26-Aug-2026 6:28am", "font": "Liberation Sans", "fontSize": 8.5, "fill": "#000000", "align": "left", "baseline": "alphabetic"},
      "encoding": {"x": {"datum": {"year": 1979, "month": 8, "date": 20, "utc": true}}, "y": {"datum": 124.5}}
    },
    {
      "mark": {"type": "text", "text": "© StockCharts.com", "font": "DejaVu Sans", "fontSize": 10, "fill": "#555555", "align": "right", "baseline": "alphabetic"},
      "encoding": {"x": {"datum": {"year": 2026, "month": 12, "date": 6, "utc": true}}, "y": {"datum": 139.5}}
    },
    {
      "mark": {"type": "text", "text": "Open", "font": "Liberation Sans", "fontSize": 10.5, "fontWeight": "bold", "fill": "#000000", "align": "left", "baseline": "alphabetic"},
      "encoding": {"x": {"datum": {"year": 2002, "month": 1, "date": 1, "utc": true}}, "y": {"datum": 125}}
    },
    {
      "mark": {"type": "text", "text": "68.44", "font": "Liberation Sans", "fontSize": 10, "fill": "#000000", "align": "left", "baseline": "alphabetic"},
      "encoding": {"x": {"datum": {"year": 2004, "month": 4, "date": 8, "utc": true}}, "y": {"datum": 125}}
    },
    {
      "mark": {"type": "text", "text": "High", "font": "Liberation Sans", "fontSize": 10.5, "fontWeight": "bold", "fill": "#000000", "align": "left", "baseline": "alphabetic"},
      "encoding": {"x": {"datum": {"year": 2006, "month": 5, "date": 15, "utc": true}}, "y": {"datum": 125}}
    },
    {
      "mark": {"type": "text", "text": "68.71", "font": "Liberation Sans", "fontSize": 10, "fill": "#000000", "align": "left", "baseline": "alphabetic"},
      "encoding": {"x": {"datum": {"year": 2008, "month": 4, "date": 23, "utc": true}}, "y": {"datum": 125}}
    },
    {
      "mark": {"type": "text", "text": "Low", "font": "Liberation Sans", "fontSize": 10.5, "fontWeight": "bold", "fill": "#000000", "align": "left", "baseline": "alphabetic"},
      "encoding": {"x": {"datum": {"year": 2010, "month": 10, "date": 2, "utc": true}}, "y": {"datum": 125}}
    },
    {
      "mark": {"type": "text", "text": "68.44", "font": "Liberation Sans", "fontSize": 10, "fill": "#000000", "align": "left", "baseline": "alphabetic"},
      "encoding": {"x": {"datum": {"year": 2012, "month": 7, "date": 12, "utc": true}}, "y": {"datum": 125}}
    },
    {
      "mark": {"type": "text", "text": "Last", "font": "Liberation Sans", "fontSize": 10.5, "fontWeight": "bold", "fill": "#000000", "align": "left", "baseline": "alphabetic"},
      "encoding": {"x": {"datum": {"year": 2015, "month": 2, "date": 21, "utc": true}}, "y": {"datum": 125}}
    },
    {
      "mark": {"type": "text", "text": "68.48", "font": "Liberation Sans", "fontSize": 10, "fill": "#000000", "align": "left", "baseline": "alphabetic"},
      "encoding": {"x": {"datum": {"year": 2017, "month": 1, "date": 15, "utc": true}}, "y": {"datum": 125}}
    },
    {
      "mark": {"type": "text", "text": "Chg", "font": "Liberation Sans", "fontSize": 10.5, "fontWeight": "bold", "fill": "#000000", "align": "left", "baseline": "alphabetic"},
      "encoding": {"x": {"datum": {"year": 2019, "month": 7, "date": 11, "utc": true}}, "y": {"datum": 125}}
    },
    {
      "mark": {"type": "text", "text": "-0.11 (-0.16%)", "font": "Liberation Sans", "fontSize": 10, "fill": "#000000", "align": "left", "baseline": "alphabetic"},
      "encoding": {"x": {"datum": {"year": 2021, "month": 4, "date": 19, "utc": true}}, "y": {"datum": 125}}
    },
    {
      "mark": {"type": "point", "shape": "triangle-down", "filled": true, "color": "#a8002c", "opacity": 1, "size": 30},
      "encoding": {"x": {"datum": {"year": 2026, "month": 9, "date": 17, "utc": true}}, "y": {"datum": 128.3}}
    }
  ]
}
